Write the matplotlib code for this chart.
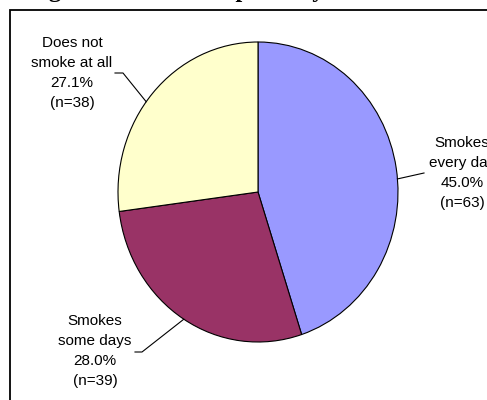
import matplotlib
matplotlib.use("Agg")
import matplotlib.pyplot as plt
from matplotlib.lines import Line2D
from matplotlib.patches import Rectangle
import numpy as np

# ---- data ----
categories = ["Smokes\nevery day", "Smokes\nsome days", "Does not\nsmoke at all"]
percents = [45.0, 28.0, 27.1]
counts = [63, 39, 38]
colors = ["#9999FF", "#993366", "#FFFFCC"]
title_text = "Smoking Status of Participants by"

W, H = 487, 400
fig = plt.figure(figsize=(W / 100, H / 100), dpi=100)

def fx(x):
    return x / W

def fy(y):
    return 1 - y / H

# frame (chart area border, cropped at right/bottom)
fig.patches.append(Rectangle((fx(10), fy(420)), fx(500) - fx(10), fy(10) - fy(420),
                             transform=fig.transFigure, fill=False,
                             edgecolor="black", linewidth=1.3, clip_on=False))

# title mostly cropped above the image (only descender tips visible)
fig.text(fx(-31), fy(-3), title_text, family="Liberation Serif", weight="bold",
         fontsize=17.6, ha="left", va="baseline")

# pie (slightly taller than wide, as in the reference)
cx, cy, RX, RY = 258, 192, 140, 150
ax = fig.add_axes([fx(cx - RX), fy(cy + RY), 2 * RX / W, 2 * RY / H])
ax.pie(percents, colors=colors, startangle=90, counterclock=False,
       wedgeprops=dict(edgecolor="black", linewidth=0.8))
ax.set_xlim(-1, 1)
ax.set_ylim(-1, 1)
ax.set_aspect("auto")
ax.axis("off")

font = dict(family="Liberation Sans", fontsize=11, ha="center", va="center",
            linespacing=1.55)

def label(i):
    return f"{categories[i]}\n{percents[i]:.1f}%\n(n={counts[i]})"

def edge_px(angle_deg):
    a = np.deg2rad(angle_deg)
    return cx + RX * np.cos(a), cy - RY * np.sin(a)

def leader(points):
    xs = [fx(p[0]) for p in points]
    ys = [fy(p[1]) for p in points]
    fig.lines.append(Line2D(xs, ys, transform=fig.transFigure, color="black",
                            linewidth=0.8))

# Smokes every day
fig.text(fx(462), fy(173), label(0), **font)
leader([edge_px(5), (424, 173)])

# Smokes some days
fig.text(fx(95), fy(351), label(1), **font)
leader([edge_px(-122), (142, 352), (135, 352)])

# Does not smoke at all
fig.text(fx(72), fy(73), label(2), **font)
leader([edge_px(143), (123, 73), (115, 73)])

fig.savefig("out.png", dpi=100)
